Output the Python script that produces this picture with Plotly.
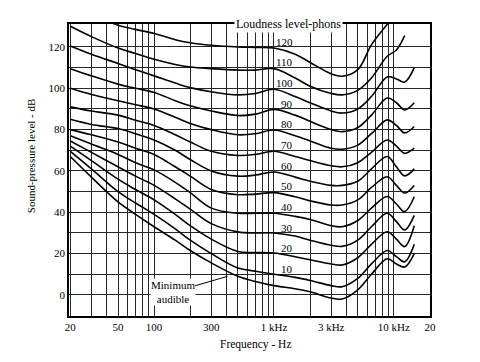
import math
import plotly.graph_objects as go

# ---- data ----
freq_hz = [20, 30, 50, 70, 100, 150, 200, 300, 500, 700, 1000, 1500, 2000,
           3000, 3700, 5000, 6500, 8800, 10500, 12300, 14800]

phon_levels = [120, 110, 100, 90, 80, 70, 60, 50, 40, 30, 20, 10, 0]

spl_120 = [None, 136.0, 130.5, 128.5, 126.5, 123.5, 122.0, 120.8, 120.0, 119.8, 119.5, 116.5, 112.5, 107.0, 105.8, 109.0, 121.0, 131.0, 137.0, None, None]
spl_110 = [130.0, 125.0, 119.5, 116.8, 114.0, 111.5, 110.3, 109.5, 108.8, 108.8, 109.5, 105.0, 101.0, 97.5, 96.8, 99.0, 105.0, 115.5, 118.5, 125.5, None]
spl_100 = [120.5, 116.5, 112.0, 109.0, 106.0, 102.5, 100.3, 98.3, 96.8, 97.5, 99.5, 96.0, 93.0, 89.0, 88.0, 90.0, 96.0, 105.5, 104.5, 103.0, 110.0]
spl_90 = [109.5, 106.0, 102.0, 100.0, 98.0, 94.0, 91.5, 89.0, 86.8, 87.5, 89.8, 87.0, 84.0, 80.0, 79.0, 81.0, 87.0, 95.3, 93.0, 89.5, 93.0]
spl_80 = [100.0, 97.0, 94.0, 92.0, 90.0, 86.0, 83.0, 80.0, 77.5, 78.0, 79.8, 77.0, 74.5, 71.0, 70.5, 72.5, 78.0, 84.7, 82.0, 78.4, 81.5]
spl_70 = [91.0, 89.0, 87.0, 84.5, 82.0, 77.5, 74.0, 69.5, 67.5, 68.0, 69.5, 67.0, 65.0, 62.5, 62.0, 64.0, 69.0, 75.0, 72.0, 68.5, 71.0]
spl_60 = [85.0, 82.5, 80.5, 78.0, 75.0, 70.0, 65.5, 60.0, 57.5, 58.0, 59.5, 57.0, 55.0, 53.0, 53.0, 55.0, 61.0, 67.0, 62.0, 57.6, 61.0]
spl_50 = [80.0, 77.5, 74.0, 71.0, 68.0, 62.0, 57.5, 51.0, 48.5, 48.8, 49.5, 47.5, 45.5, 43.5, 43.5, 46.0, 52.0, 57.2, 53.0, 49.3, 53.0]
spl_40 = [77.0, 73.0, 68.0, 64.0, 60.5, 54.5, 49.5, 42.0, 39.5, 39.5, 39.5, 38.0, 36.5, 33.5, 33.0, 36.0, 42.0, 47.6, 44.0, 40.3, 47.5]
spl_30 = [74.5, 69.0, 62.0, 57.5, 53.0, 46.5, 41.5, 34.5, 30.5, 30.0, 30.0, 28.5, 26.5, 24.0, 23.5, 26.5, 33.0, 39.5, 35.5, 31.4, 38.5]
spl_20 = [72.0, 65.0, 56.0, 51.0, 46.0, 39.0, 33.5, 27.0, 21.0, 20.5, 20.3, 18.5, 17.0, 15.0, 14.5, 18.0, 24.5, 30.6, 27.0, 23.4, 33.5]
spl_10 = [69.5, 61.0, 50.0, 44.5, 39.0, 32.0, 26.5, 20.0, 13.0, 11.5, 10.0, 8.5, 7.0, 4.5, 4.0, 8.0, 15.0, 21.5, 18.5, 16.0, 24.5]
spl_0 = [67.0, 57.0, 45.0, 39.0, 33.0, 26.5, 21.5, 15.5, 9.0, 6.5, 4.5, 3.0, 1.5, -1.5, -2.0, 2.5, 10.0, 17.5, 15.0, 13.5, 20.0]

curves = [spl_120, spl_110, spl_100, spl_90, spl_80, spl_70, spl_60,
          spl_50, spl_40, spl_30, spl_20, spl_10, spl_0]

grid_freqs = [20, 30, 40, 50, 60, 70, 80, 90, 100, 200, 300, 400, 500, 600,
              700, 800, 900, 1000, 2000, 3000, 4000, 5000, 6000, 7000, 8000,
              9000, 10000, 20000]
x_tick_labels = {20: "20", 50: "50", 100: "100", 300: "300", 1000: "1 kHz",
                 3000: "3 kHz", 10000: "10 kHz", 20000: "20"}
y_grid = list(range(0, 121, 10))
y_tick_labels = {v: str(v) for v in range(0, 121, 20)}

SERIF = "Liberation Serif, Times New Roman, serif"

fig = go.Figure()
for lvl, spl in zip(phon_levels, curves):
    fig.add_trace(go.Scatter(
        x=freq_hz, y=spl, mode="lines", name=f"{lvl} phons",
        line=dict(color="black", width=1.6, shape="spline", smoothing=1.0),
        hoverinfo="skip", showlegend=False))

annotations = []
for lvl in phon_levels[:-1]:
    annotations.append(dict(
        x=math.log10(1500), y=lvl + 2.6, xref="x", yref="y",
        text=str(lvl), showarrow=False, xanchor="right", yanchor="middle",
        font=dict(family=SERIF, size=11, color="black")))

annotations.append(dict(
    x=0.607, y=1.0, xref="paper", yref="paper",
    text="Loudness level-phons", showarrow=False, xanchor="center",
    yanchor="middle", bgcolor="white", borderpad=1,
    font=dict(family=SERIF, size=12, color="black")))

annotations.append(dict(
    x=math.log10(410), y=9, xref="x", yref="y",
    text="Minimum<br>audible", showarrow=True, arrowhead=0, arrowwidth=1,
    arrowcolor="black", ax=-55, ay=16, standoff=0, bgcolor="white",
    borderpad=0, font=dict(family=SERIF, size=11, color="black")))

annotations.append(dict(
    x=-0.103, y=0.55, xref="paper", yref="paper",
    text="Sound-pressure level - dB", showarrow=False, textangle=-90,
    xanchor="center", yanchor="middle",
    font=dict(family=SERIF, size=11, color="black")))

annotations.append(dict(
    x=0.518, y=-0.096, xref="paper", yref="paper",
    text="Frequency - Hz", showarrow=False, xanchor="center",
    yanchor="middle", font=dict(family=SERIF, size=11.5, color="black")))

# page body has an 8px margin, so the figure is 8px smaller than the window
fig.update_layout(
    width=472, height=354,
    margin=dict(l=61, r=50, t=16, b=46),
    paper_bgcolor="white", plot_bgcolor="white",
    annotations=annotations,
    showlegend=False,
)
fig.update_xaxes(
    type="log", range=[1.29, 4.3015],
    tickmode="array", tickvals=grid_freqs,
    ticktext=[x_tick_labels.get(f, "") for f in grid_freqs],
    showgrid=True, gridcolor="#262626", gridwidth=1,
    showline=True, linecolor="black", linewidth=1.5, mirror=True,
    ticks="", zeroline=False,
    tickfont=dict(family=SERIF, size=11, color="black"))
fig.update_yaxes(
    range=[-10.2, 131.1],
    tickmode="array", tickvals=y_grid,
    ticktext=[y_tick_labels.get(v, "") for v in y_grid],
    showgrid=True, gridcolor="#262626", gridwidth=1,
    showline=True, linecolor="black", linewidth=1.5, mirror=True,
    ticks="", zeroline=False,
    tickfont=dict(family=SERIF, size=11, color="black"))

fig.write_html("out.html")
